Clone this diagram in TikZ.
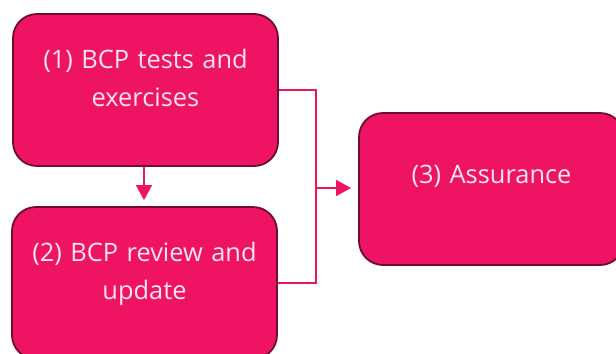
\documentclass[tikz,border=0pt]{standalone}
\usepackage{fontspec}
\setmainfont{Open Sans}
\usetikzlibrary{arrows.meta}
\definecolor{boxpink}{HTML}{EE1463}
\definecolor{boxedge}{HTML}{6E0B30}
\definecolor{boxtext}{HTML}{FDE4EE}
\tikzset{
  stagebox/.style={draw=boxedge, line width=1.8bp, fill=boxpink, rounded corners=24bp,
    minimum width=265bp, minimum height=152bp, text width=250bp, align=center,
    text=boxtext, text depth=62bp, font=\fontsize{25.5}{38}\selectfont},
  flowline/.style={draw=boxpink, line width=1.3bp},
  flowarrow/.style={flowline, -{Triangle[length=15bp,width=16bp]}}
}
\begin{document}
\begin{tikzpicture}[x=1bp, y=-1bp]
  \useasboundingbox (0,0) rectangle (616,353);
  \node[stagebox] (tests) at (145.5,90) {(1) BCP tests and\\exercises};
  \node[stagebox] (review) at (144.5,283) {(2) BCP review and\\update};
  \node[stagebox, text depth=30bp] (assure) at (491.5,189) {(3) Assurance};
  \coordinate (join) at (316,188);
  \draw[flowline] (tests.east) -- (tests.east -| join) -- (review.east -| join) -- (review.east);
  \draw[flowarrow, shorten >=7bp] (join) -- (join -| assure.west);
  \draw[flowarrow, shorten >=6bp] (tests.south -| 144,0) -- (review.north -| 144,0);
\end{tikzpicture}
\end{document}
